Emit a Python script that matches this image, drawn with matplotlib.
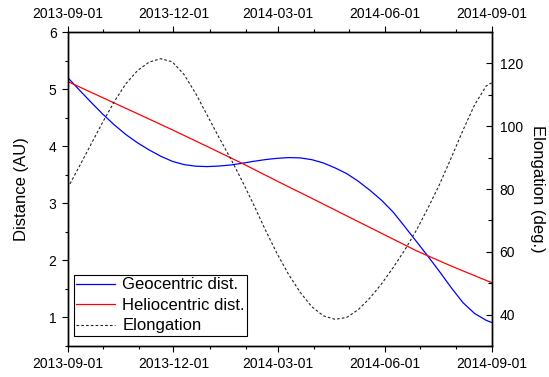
import matplotlib
matplotlib.use('Agg')
import matplotlib.pyplot as plt
import matplotlib.dates as mdates
from matplotlib.ticker import MultipleLocator
import pandas as pd

plt.rcParams['font.family'] = ['Liberation Sans', 'DejaVu Sans']

start_date = '2013-09-01'
end_date = '2014-09-01'

# days after start date
curve_days = [0, 10, 20, 30, 40, 50, 60, 70, 80, 90, 100, 110, 120, 130, 140, 150,
              160, 170, 180, 190, 200, 210, 220, 230, 240, 250, 260, 270, 280, 290,
              300, 310, 320, 330, 340, 350, 360, 365]
geocentric = [5.203, 4.985, 4.772, 4.565, 4.375, 4.205, 4.06, 3.935, 3.825, 3.735,
              3.678, 3.65, 3.643, 3.652, 3.67, 3.70, 3.735, 3.765, 3.787, 3.80,
              3.795, 3.764, 3.706, 3.62, 3.52, 3.385, 3.228, 3.053, 2.845, 2.59,
              2.33, 2.07, 1.80, 1.52, 1.26, 1.07, 0.95, 0.91]
elongation = [80.3, 87.2, 94.2, 101.2, 107.8, 113.5, 117.7, 120.4, 121.5, 120.5,
              116.5, 110.5, 103.5, 96.5, 89.8, 82.6, 75.0, 67.0, 59.5, 52.8,
              47.1, 42.5, 39.6, 38.5, 39.1, 41.6, 45.3, 49.8, 55.0, 60.6,
              66.9, 74.0, 81.6, 90.0, 98.7, 106.8, 112.8, 113.9]

helio_days = [0, 30, 60, 90, 120, 150, 180, 210, 240, 270, 300, 330, 360, 365]
heliocentric = [5.133, 4.851, 4.570, 4.287, 3.995, 3.70, 3.39, 3.087, 2.78, 2.474,
                2.168, 1.90, 1.649, 1.608]

labels = ['Geocentric dist.', 'Heliocentric dist.', 'Elongation']


def to_dates(days):
    return pd.Timestamp(start_date) + pd.to_timedelta(days, unit='D')


fig = plt.figure(figsize=(5.49, 3.77), dpi=100)
ax = fig.add_axes([0.1233, 0.0822, 0.7729, 0.8329])
ax2 = ax.twinx()

l1, = ax.plot(to_dates(curve_days), geocentric, color='#0000ff', lw=0.9)
l2, = ax.plot(to_dates(helio_days), heliocentric, color='#ff0000', lw=0.9)
l3, = ax2.plot(to_dates(curve_days), elongation, color='#222222', lw=0.8,
               linestyle=(0, (2.4, 1.9)))

ax.set_xlim(pd.Timestamp(start_date), pd.Timestamp(end_date))
ax.set_ylim(0.5, 6)
ax2.set_ylim(30, 130)

ax.xaxis.set_major_locator(mdates.MonthLocator(bymonth=[3, 6, 9, 12]))
ax.xaxis.set_minor_locator(mdates.MonthLocator())
ax.xaxis.set_major_formatter(mdates.DateFormatter('%Y-%m-%d'))
ax.yaxis.set_major_locator(MultipleLocator(1))
ax.yaxis.set_minor_locator(MultipleLocator(0.5))
ax2.yaxis.set_major_locator(MultipleLocator(20))
ax2.yaxis.set_minor_locator(MultipleLocator(10))

ax.tick_params(axis='x', which='both', direction='out', top=True, labeltop=True,
               bottom=True, labelbottom=True, labelsize=10, width=0.8)
ax.tick_params(axis='y', which='both', direction='out', left=True, right=False,
               labelsize=10, width=0.8)
ax.tick_params(which='major', length=4.5)
ax.tick_params(which='minor', length=2.5)
ax2.tick_params(axis='y', which='both', direction='in', labelsize=10, width=0.8, pad=5.5)
ax2.tick_params(axis='y', which='major', length=4.3)
ax2.tick_params(axis='y', which='minor', length=3)

for a in (ax, ax2):
    for s in a.spines.values():
        s.set_linewidth(1.0)

ax.set_ylabel('Distance (AU)', fontsize=12, labelpad=14)
ax2.set_ylabel('Elongation (deg.)', fontsize=12, rotation=270, va='bottom', labelpad=5)

leg = ax2.legend([l1, l2, l3], labels, loc='lower left', bbox_to_anchor=(0.0148, 0.032),
                 borderaxespad=0, frameon=True, fancybox=False, edgecolor='black',
                 framealpha=1, fontsize=12, handlelength=2.3, handletextpad=0.45,
                 borderpad=0.15, labelspacing=0.33)
leg.get_frame().set_linewidth(0.8)

fig.savefig('out.png', dpi=100)
